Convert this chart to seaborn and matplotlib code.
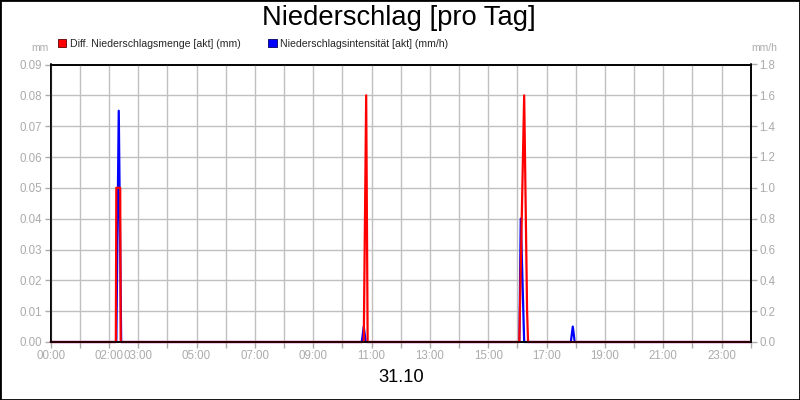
import matplotlib
matplotlib.use("Agg")
import matplotlib.pyplot as plt
import seaborn as sns
import pandas as pd
from matplotlib.patches import Rectangle, Patch

# ---- data ----
red_times = ["00:00", "02:14", "02:15", "02:23", "02:24",
             "10:44", "10:49", "10:52",
             "16:04", "16:14", "16:20", "16:22", "24:00"]
red_values = [0, 0, 0.05, 0.05, 0,
              0, 0.08, 0,
              0, 0.08, 0.01, 0, 0]

blue_times = ["00:00", "02:15", "02:20", "02:25",
              "10:40", "10:44", "10:48",
              "16:04", "16:07", "16:14",
              "17:50", "17:54", "17:58", "24:00"]
blue_values = [0, 0, 1.5, 0,
               0, 0.1, 0,
               0, 0.8, 0,
               0, 0.1, 0, 0]

x_tick_labels = ["00:00", "02:00", "03:00", "05:00", "07:00", "09:00", "11:00",
                 "13:00", "15:00", "17:00", "19:00", "21:00", "23:00"]
left_ticks = [0.00, 0.01, 0.02, 0.03, 0.04, 0.05, 0.06, 0.07, 0.08, 0.09]
right_ticks = [0.0, 0.2, 0.4, 0.6, 0.8, 1.0, 1.2, 1.4, 1.6, 1.8]

title = "Niederschlag [pro Tag]"
date_label = "31.10"
red_label = "Diff. Niederschlagsmenge [akt] (mm)"
blue_label = "Niederschlagsintensität [akt] (mm/h)"


def to_hours(t):
    h, m = t.split(":")
    return int(h) + int(m) / 60.0


red_df = pd.DataFrame({"t": [to_hours(t) for t in red_times], "v": red_values})
blue_df = pd.DataFrame({"t": [to_hours(t) for t in blue_times], "v": blue_values})

sns.set_style("white")
plt.rcParams["font.family"] = ["Liberation Sans", "DejaVu Sans"]

GRAY = "#ababab"
GRID = "#c0c0c0"

fig = plt.figure(figsize=(8, 4), dpi=100)
fig.patch.set_facecolor("white")
ax = fig.add_axes([50.7 / 800, 1 - 342 / 400, 700 / 800, (342 - 64.5) / 400])
ax2 = ax.twinx()

# layering: red (ax) on top, blue (ax2) below
ax.set_zorder(2)
ax2.set_zorder(1)
ax.patch.set_visible(False)
ax2.patch.set_facecolor("white")
ax2.patch.set_visible(True)

sns.lineplot(data=blue_df, x="t", y="v", ax=ax2, color="#0000ff", lw=1.6,
             estimator=None, sort=False, clip_on=False)
sns.lineplot(data=red_df, x="t", y="v", ax=ax, color="#ff0000", lw=1.6,
             estimator=None, sort=False, clip_on=False)

ax.set_xlim(0, 24)
ax.set_ylim(0, 0.09)
ax2.set_ylim(0, 1.8)

hours = list(range(0, 25))
label_map = {to_hours(l): l for l in x_tick_labels}
ax.set_xticks(hours)
ax.set_xticklabels([label_map.get(float(h), "") for h in hours])

ax.set_yticks(left_ticks)
ax.set_yticklabels([f"{v:.2f}" for v in left_ticks])
ax2.set_yticks(right_ticks)
ax2.set_yticklabels([f"{v:.1f}" for v in right_ticks])

# horizontal grid behind blue line, vertical grid on top axes (below red)
ax2.grid(True, axis="y", color=GRID, lw=1.0)
ax2.set_axisbelow(True)
ax.grid(True, axis="x", color=GRID, lw=1.0)
ax.set_axisbelow(True)

for a in (ax, ax2):
    a.set_xlabel("")
    a.set_ylabel("")
    for s in a.spines.values():
        s.set_color("black")
        s.set_linewidth(1.2)
        s.set_visible(True)
    a.tick_params(axis="both", which="both", colors=GRAY, labelcolor=GRAY,
                  labelsize=8.3, length=4, width=1, direction="out", pad=2)
ax.tick_params(axis="y", left=True, right=False)
ax2.tick_params(axis="y", right=True, left=False)
ax.tick_params(axis="x", bottom=True)

# unit labels
fig.text(40 / 800, 1 - 48 / 400, "mm", color=GRAY, fontsize=7.5, ha="center", va="center")
fig.text(764 / 800, 1 - 48 / 400, "mm/h", color=GRAY, fontsize=7.5, ha="center", va="center")

# title and date
fig.text(399 / 800, 1 - 18 / 400, title, fontsize=19.7, ha="center", va="center", color="black")
fig.text(401 / 800, 1 - 377 / 400, date_label, fontsize=13.2, ha="center", va="center", color="black")

# legend
handles = [Patch(facecolor="#ff0000", edgecolor="#600000", lw=0.6, label=red_label),
           Patch(facecolor="#0000ff", edgecolor="#000060", lw=0.6, label=blue_label)]
fig.legend(handles=handles, loc="center left", bbox_to_anchor=(58 / 800, 1 - 44 / 400),
           ncol=2, frameon=False, fontsize=7.6, handlelength=0.8, handleheight=0.8,
           handletextpad=0.35, columnspacing=2.6, borderaxespad=0, borderpad=0)

# outer frame
fig.add_artist(Rectangle((0, 0), 1, 1, transform=fig.transFigure, fill=False,
                         edgecolor="black", lw=2.0))

fig.savefig("out.png", dpi=100, facecolor="white")
